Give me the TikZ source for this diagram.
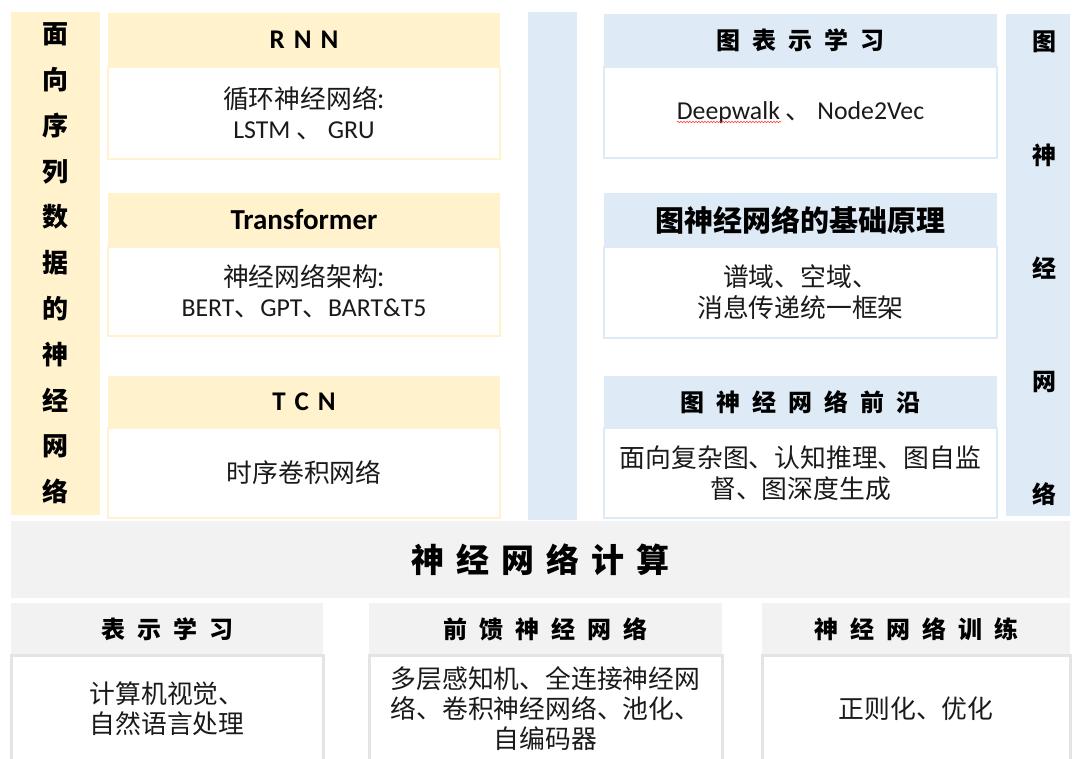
\documentclass[tikz,border=0pt]{standalone}
\usepackage{fontspec}
\setmainfont{Noto Sans CJK SC}
\newfontfamily\lat{Carlito}
\usetikzlibrary{decorations.pathmorphing}
\definecolor{ylw}{HTML}{FFF2CC}
\definecolor{blu}{HTML}{DEEBF7}
\definecolor{gry}{HTML}{F2F2F2}
\definecolor{gbd}{HTML}{E4E4E4}
\definecolor{ink}{HTML}{1A1A1A}
\newcommand\gp{\hspace{12pt}}
\newcommand\gq{\hspace{9pt}}
\begin{document}
\begin{tikzpicture}[x=1pt,y=-1pt,
  blk/.style={inner sep=0pt, outer sep=0pt, align=center, draw=none},
  ttl/.style={blk, font=\bfseries\fontsize{24}{24}\selectfont},
  bodyy/.style={blk, fill=white, draw=ylw, line width=2.5pt, text=ink, font=\fontsize{25.8}{30}\selectfont},
  bodyb/.style={blk, fill=white, draw=blu, line width=2.5pt, text=ink, font=\fontsize{25.8}{31}\selectfont},
  bodyg/.style={blk, fill=white, draw=gbd, line width=3pt, text=ink, font=\fontsize{25.8}{30}\selectfont}]
\useasboundingbox (0,0) rectangle (1073,758);

% left vertical bar
\node[blk, fill=ylw, minimum width=89pt, minimum height=503pt, font=\bfseries\fontsize{26}{45.8}\selectfont] (lbar) at (55.5,263.5)
  {面\\向\\序\\列\\数\\据\\的\\神\\经\\网\\络};

% middle yellow column
\node[ttl, fill=ylw, minimum width=392pt, minimum height=54pt] (rnnh) at (304,40) {\lat\bfseries\fontsize{27}{27}\selectfont R\gq N\gq N};
\node[bodyy, minimum width=392pt, minimum height=92pt] (rnnb) at (304,113) {循环神经网络:\\{\lat LSTM} 、 {\lat GRU}};

\node[ttl, fill=ylw, minimum width=392pt, minimum height=54pt] (trh) at (304,220) {\lat\bfseries\fontsize{29}{29}\selectfont Transformer};
\node[bodyy, minimum width=392pt, minimum height=89pt] (trb) at (304,291.5) {神经网络架构:\\{\lat BERT}、{\lat GPT}、{\lat BART\&T5}};

\node[ttl, fill=ylw, minimum width=392pt, minimum height=52pt] (tcnh) at (304,402) {\lat\bfseries\fontsize{27}{27}\selectfont T\gq C\gq N};
\node[bodyy, minimum width=392pt, minimum height=90pt] (tcnb) at (304,473) {时序卷积网络};

% middle blue bar
\node[blk, fill=blu, minimum width=49pt, minimum height=508pt] (mbar) at (552.5,266) {};

% right blue column
\node[ttl, fill=blu, minimum width=393pt, minimum height=53pt] (grh) at (800.5,40.5) {图\gp 表\gp 示\gp 学\gp 习};
\node[bodyb, minimum width=393pt, minimum height=91pt] (grb) at (800.5,112.5) {{\lat Deepwalk} 、 {\lat Node2Vec}};
\coordinate (dwa) at (677,122);
\coordinate (dwb) at (781,122);
\draw[red!75, line width=0.6pt, decorate, decoration={snake, amplitude=0.8pt, segment length=3pt}] (dwa) -- (dwb);

\node[ttl, fill=blu, minimum width=393pt, minimum height=54pt, font=\bfseries\fontsize{29}{29}\selectfont] (gbh) at (800.5,220) {图神经网络的基础原理};
\node[bodyb, minimum width=393pt, minimum height=91pt] (gbb) at (800.5,292.5) {谱域、空域、\\消息传递统一框架};

\node[ttl, fill=blu, minimum width=393pt, minimum height=52pt] (gfh) at (800.5,402) {图\gp 神\gp 经\gp 网\gp 络\gp 前\gp 沿};
\node[bodyb, minimum width=393pt, minimum height=90pt] (gfb) at (800.5,473) {面向复杂图、认知推理、图自监\\督、图深度生成};

% right vertical bar
\node[blk, fill=blu, minimum width=64pt, minimum height=502pt] (rbar) at (1038,265) {};
\node[blk, font=\bfseries\fontsize{24}{113.25}\selectfont] (rtxt) at (1044.5,268.5) {图\\神\\经\\网\\络};

% grey computation bar
\node[blk, fill=gry, minimum width=1059pt, minimum height=77pt, font=\bfseries\fontsize{33}{33}\selectfont] (comp) at (540.5,559.5)
  {神\gp 经\gp 网\gp 络\gp 计\gp 算};

% bottom blocks
\node[ttl, fill=gry, minimum width=312pt, minimum height=52pt] (bh1) at (167,629) {表\gp 示\gp 学\gp 习};
\node[bodyg, minimum width=312pt, minimum height=107pt] (bb1) at (167,708.5) {计算机视觉、\\自然语言处理};

\node[ttl, fill=gry, minimum width=353pt, minimum height=52pt] (bh2) at (545.5,629) {前\gp 馈\gp 神\gp 经\gp 网\gp 络};
\node[bodyg, minimum width=353pt, minimum height=107pt] (bb2) at (545.5,708.5) {多层感知机、全连接神经网\\络、卷积神经网络、池化、\\自编码器};

\node[ttl, fill=gry, minimum width=308pt, minimum height=52pt] (bh3) at (916,629) {神\gp 经\gp 网\gp 络\gp 训\gp 练};
\node[bodyg, minimum width=308pt, minimum height=107pt] (bb3) at (916,708.5) {正则化、优化};
\end{tikzpicture}
\end{document}
